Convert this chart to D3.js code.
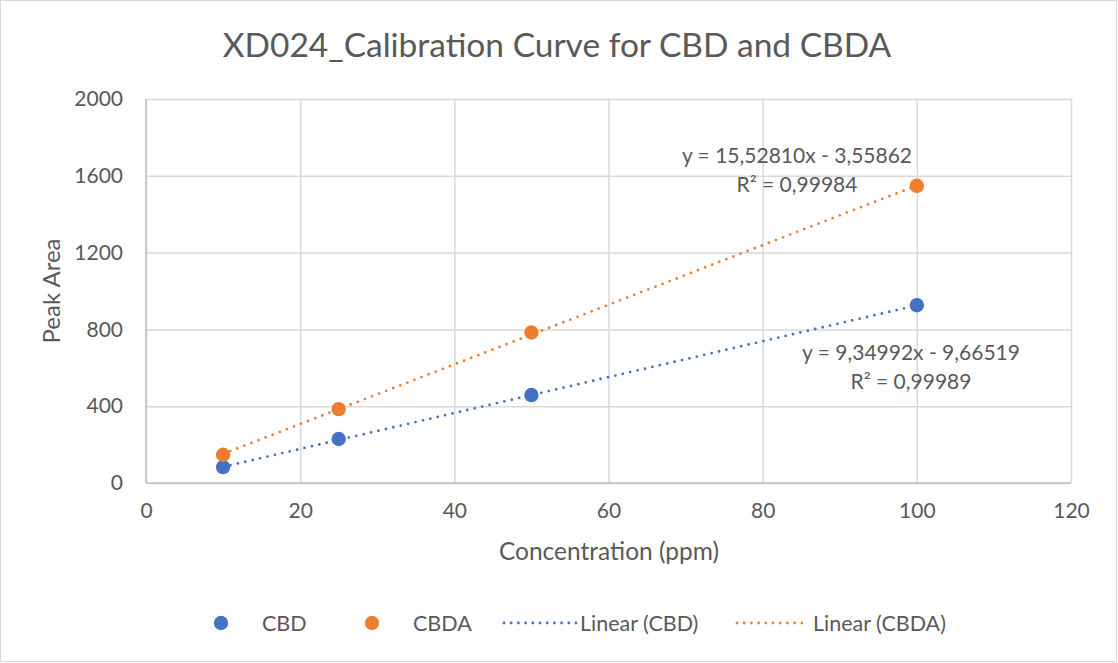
<html>
<head>
<script src="https://d3js.org/d3.v7.min.js"></script>
<style>
body { margin:0; background:#fff; }
text { font-family: Lato, "Open Sans", sans-serif; fill:#595959; }
</style>
</head>
<body>
<script>
// data
var concentration = [10, 25, 50, 100];
var cbdArea = [83, 229, 458, 926];
var cbdaArea = [147, 385, 784, 1548];
var xTicks = [0, 20, 40, 60, 80, 100, 120];
var yTicks = [0, 400, 800, 1200, 1600, 2000];
// trendline coefficients from the labels (slope, intercept)
var cbdFit = [9.34992, -9.66519];
var cbdaFit = [15.52810, -3.55862];
var cbdLabel = ["y = 9,34992x - 9,66519", "R² = 0,99989"];
var cbdaLabel = ["y = 15,52810x - 3,55862", "R² = 0,99984"];

var width = 1118, height = 663;
var margin = {top:99, right:47, bottom:180, left:146};
var w = width - margin.left - margin.right;
var h = height - margin.top - margin.bottom;
var blue = "#4472C4", orange = "#ED7D31";

var svg = d3.select("body").append("svg")
    .attr("width", width)
    .attr("height", height);

svg.append("rect")
    .attr("x", 0.5).attr("y", 0.5)
    .attr("width", width - 2).attr("height", height - 2)
    .attr("fill", "#fff").attr("stroke", "#d9d9d9");

var g = svg.append("g")
    .attr("transform", "translate(" + margin.left + "," + margin.top + ")");

var x = d3.scaleLinear().domain([0, 120]).range([0, w]);
var y = d3.scaleLinear().domain([0, 2000]).range([h, 0]);

// grid + axes
var yAxis = g.append("g")
    .call(d3.axisLeft(y).tickValues(yTicks).tickFormat(d3.format("d")).tickSize(-w).tickPadding(23));
var xAxis = g.append("g")
    .attr("transform", "translate(0," + h + ")")
    .call(d3.axisBottom(x).tickValues(xTicks).tickSize(-h).tickPadding(20));
[yAxis, xAxis].forEach(function(a){
  a.select(".domain").remove();
  a.selectAll("line").attr("stroke", "#d9d9d9").attr("stroke-width", 1.5);
  a.selectAll("text").attr("font-size", 21).attr("fill", "#595959")
    .style("font-family", "Lato, sans-serif");
});
g.append("line").attr("x1", 0).attr("x2", 0).attr("y1", 0).attr("y2", h)
  .attr("stroke", "#bfbfbf").attr("stroke-width", 1.5);
g.append("line").attr("x1", 0).attr("x2", w).attr("y1", h).attr("y2", h)
  .attr("stroke", "#bfbfbf").attr("stroke-width", 1.5);

// trendlines
function trend(fit, color) {
  var x0 = d3.min(concentration), x1 = d3.max(concentration);
  g.append("line")
    .attr("x1", x(x0)).attr("y1", y(fit[0] * x0 + fit[1]))
    .attr("x2", x(x1)).attr("y2", y(fit[0] * x1 + fit[1]))
    .attr("stroke", color).attr("stroke-width", 2.8)
    .attr("stroke-linecap", "round")
    .attr("stroke-dasharray", "0 7.6");
}
trend(cbdFit, blue);
trend(cbdaFit, orange);

// points
function points(vals, color) {
  g.append("g").selectAll("circle")
    .data(vals)
    .enter().append("circle")
    .attr("cx", function(d, i){ return x(concentration[i]); })
    .attr("cy", function(d){ return y(d); })
    .attr("r", 7.2)
    .attr("fill", color);
}
points(cbdArea, blue);
points(cbdaArea, orange);

// trendline labels
function label(lines, cx, cy) {
  lines.forEach(function(t, i){
    svg.append("text")
      .attr("x", cx).attr("y", cy + i * 29)
      .attr("text-anchor", "middle")
      .attr("dy", "0.35em")
      .attr("font-size", 21)
      .text(t);
  });
}
label(cbdaLabel, 797, 156);
label(cbdLabel, 911, 353);

// title and axis titles
svg.append("text")
  .attr("x", 557).attr("y", 45).attr("dy", "0.35em")
  .attr("text-anchor", "middle").attr("font-size", 33.5)
  .text("XD024_Calibration Curve for CBD and CBDA");
svg.append("text")
  .attr("x", 609).attr("y", 551).attr("dy", "0.35em")
  .attr("text-anchor", "middle").attr("font-size", 24.5)
  .text("Concentration (ppm)");
svg.append("text")
  .attr("transform", "translate(52,291) rotate(-90)")
  .attr("dy", "0.35em")
  .attr("text-anchor", "middle").attr("font-size", 24)
  .text("Peak Area");

// legend
var ly = 623;
var legend = svg.append("g").attr("font-size", 21.5);
[[221, 262, blue, "CBD"], [372, 413, orange, "CBDA"]].forEach(function(d){
  legend.append("circle").attr("cx", d[0]).attr("cy", ly).attr("r", 7.2).attr("fill", d[2]);
  legend.append("text").attr("x", d[1]).attr("y", ly).attr("dy", "0.35em").text(d[3]);
});
[[504, 576, 580, blue, "Linear (CBD)"], [737, 809, 813, orange, "Linear (CBDA)"]].forEach(function(d){
  legend.append("line").attr("x1", d[0]).attr("x2", d[1]).attr("y1", ly).attr("y2", ly)
    .attr("stroke", d[3]).attr("stroke-width", 2.8)
    .attr("stroke-linecap", "round").attr("stroke-dasharray", "0 7.2");
  legend.append("text").attr("x", d[2]).attr("y", ly).attr("dy", "0.35em").text(d[4]);
});
</script>
</body>
</html>
